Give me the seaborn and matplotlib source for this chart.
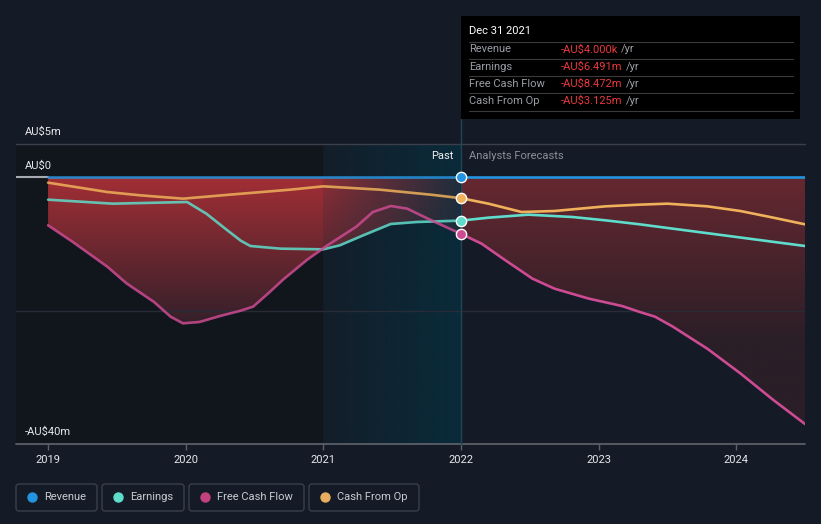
import numpy as np
import pandas as pd
import matplotlib
matplotlib.use("Agg")
import matplotlib.pyplot as plt
import seaborn as sns
from matplotlib.patches import FancyBboxPatch, PathPatch, Rectangle

# ---------------- data (AU$ millions) ----------------
rev_years = [2019.0, 2022.0, 2024.5]
revenue = [-0.004, -0.004, -0.004]

earn_years = [2019.0, 2019.47, 2020.01, 2020.15, 2020.30, 2020.40, 2020.47, 2020.69, 2021.0,
              2021.12, 2021.29, 2021.49, 2021.68, 2022.0, 2022.2, 2022.49, 2022.81, 2023.05,
              2023.30, 2023.41, 2023.91, 2024.5]
earnings = [-3.35, -3.95, -3.7, -5.45, -7.9, -9.5, -10.3, -10.7, -10.8,
            -10.2, -8.7, -7.0, -6.7, -6.491, -6.05, -5.6, -5.95, -6.45,
            -7.05, -7.35, -8.7, -10.3]

fcf_years = [2019.0, 2019.18, 2019.43, 2019.57, 2019.77, 2019.89, 2019.98, 2020.10, 2020.25,
             2020.40, 2020.49, 2020.6, 2020.71, 2020.88, 2021.03, 2021.24, 2021.36, 2021.49,
             2021.61, 2021.78, 2022.0, 2022.15, 2022.32, 2022.52, 2022.68, 2022.93, 2023.17,
             2023.30, 2023.41, 2023.54, 2023.79, 2024.03, 2024.27, 2024.5]
fcf = [-7.2, -9.7, -13.4, -15.9, -18.7, -20.9, -21.9, -21.7, -20.8,
       -20.0, -19.4, -17.4, -15.3, -12.4, -10.2, -7.4, -5.2, -4.3,
       -4.7, -6.4, -8.472, -9.95, -12.4, -15.2, -16.7, -18.2, -19.3,
       -20.2, -20.9, -22.4, -25.7, -29.4, -33.4, -37.0]

cfo_years = [2019.0, 2019.43, 2019.67, 2019.98, 2020.32, 2020.76, 2021.0, 2021.41, 2021.78,
             2022.0, 2022.2, 2022.44, 2022.68, 2023.05, 2023.3, 2023.5, 2023.79, 2024.03,
             2024.27, 2024.5]
cfo = [-0.8, -2.2, -2.7, -3.2, -2.6, -1.85, -1.35, -1.85, -2.6,
       -3.125, -3.95, -5.2, -5.05, -4.35, -4.1, -3.95, -4.35, -5.05,
       -6.05, -7.05]

year_ticks = [2019, 2020, 2021, 2022, 2023, 2024]
legend_labels = ["Revenue", "Earnings", "Free Cash Flow", "Cash From Op"]
tooltip_title = "Dec 31 2021"
tooltip_values = ["-AU$4.000k", "-AU$6.491m", "-AU$8.472m", "-AU$3.125m"]

C_REV = "#2394df"
C_EARN = "#5fdccb"
C_FCF = "#cc4b92"
C_CFO = "#efb15a"
BG = "#151b26"
FS = 8

sns.set_theme(style="dark")
plt.rcParams['font.family'] = ['Roboto', 'DejaVu Sans']

fig = plt.figure(figsize=(8.21, 5.24), dpi=100, facecolor=BG)
ax = fig.add_axes([16 / 821, 80 / 524, 789 / 821, 300 / 524])
ax.set_facecolor(BG)
X0, X1 = 2018.767, 2024.5
ax.set_xlim(X0, X1)
ax.set_ylim(-40, 5)
for s in ax.spines.values():
    s.set_visible(False)

# darker past band
ax.axvspan(X0, 2021.0, color="#11151c", zorder=0, lw=0)

# red gradient fill between 0 and the lowest series
grid = np.linspace(2019.0, 2024.5, 800)
low = np.minimum.reduce([np.interp(grid, earn_years, earnings),
                         np.interp(grid, fcf_years, fcf),
                         np.interp(grid, cfo_years, cfo),
                         np.zeros_like(grid)])

def grad_img(top, bottom, n=256, speed=1.9):
    t = np.linspace(0, 1, n)[:, None]
    top = np.array(matplotlib.colors.to_rgb(top))
    bottom = np.array(matplotlib.colors.to_rgb(bottom))
    k = np.clip(t * speed, 0, 1)
    return top[None, :] * (1 - k[..., None]) + bottom[None, :] * k[..., None]

for mask, top, bot, sp in [(grid <= 2022.0, "#a22e35", "#33202a", 1.8),
                           (grid >= 2022.0, "#662830", "#2a1e27", 1.6)]:
    gx = grid[mask]
    gl = low[mask]
    poly = ax.fill_between(gx, 0, gl, facecolor="none", edgecolor="none")
    path = poly.get_paths()[0]
    patch = PathPatch(path, transform=ax.transData, facecolor="none", edgecolor="none")
    ax.add_patch(patch)
    im = ax.imshow(grad_img(top, bot, speed=sp), extent=[gx[0], gx[-1], -40, 0],
                   aspect="auto", zorder=1, interpolation="bilinear")
    im.set_clip_path(patch)

# highlight band 2021-2022 (cyan gradient)
hx = np.linspace(0, 1, 200)
himg = np.zeros((2, 200, 4))
himg[..., 0] = 8 / 255
himg[..., 1] = 46 / 255
himg[..., 2] = 62 / 255
himg[..., 3] = 0.15 + 0.7 * hx[None, :]
ax.imshow(himg, extent=[2021.0, 2022.0, -40, 5], aspect="auto", zorder=2,
          interpolation="bilinear")
ax.set_xlim(X0, X1)
ax.set_ylim(-40, 5)

# grid lines
ax.axhline(5, color="#3b404b", lw=1, zorder=2, clip_on=False)
ax.axhline(-20, color="#272c36", lw=1, zorder=2)
ax.axhline(-40, color="#5a5f68", lw=1.3, zorder=2, clip_on=False)
ax.plot([X0, 2019.0], [0, 0], color="#a6aab0", lw=1.5, zorder=3)
ax.plot([2022.0, 2022.0], [-40, 5 + 25 / 6.667], color="#1f4656", lw=1, zorder=2,
        clip_on=False)

# lines
def draw(xs, ys, color, z):
    xs = np.array(xs); ys = np.array(ys)
    past = xs <= 2022.0
    fut = xs >= 2022.0
    sns.lineplot(x=xs[past], y=ys[past], ax=ax, color=color, lw=1.9, alpha=0.85,
                 estimator=None, sort=False, zorder=z)
    sns.lineplot(x=xs[fut], y=ys[fut], ax=ax, color=color, lw=1.9,
                 estimator=None, sort=False, zorder=z)

draw(cfo_years, cfo, C_CFO, 4)
draw(earn_years, earnings, C_EARN, 4)
draw(fcf_years, fcf, C_FCF, 4)
draw(rev_years, revenue, C_REV, 5)

for xs, ys, c in [(rev_years, revenue, C_REV), (earn_years, earnings, C_EARN),
                  (fcf_years, fcf, C_FCF), (cfo_years, cfo, C_CFO)]:
    v = ys[list(xs).index(2022.0)]
    ax.scatter([2022.0], [v], s=55, color=c, edgecolor="white", linewidth=1.0, zorder=7,
               clip_on=False)

ax.set_xticks(year_ticks)
ax.set_xticklabels([str(y) for y in year_ticks])
ax.set_yticks([])
ax.tick_params(axis="x", colors="#5a5f68", length=4, width=1, direction="out", pad=4,
               labelcolor="#e6e8eb", labelsize=FS, bottom=True)
ax.grid(False)
ax.set_xlabel("")
ax.set_ylabel("")

# overlay in pixel coordinates
ov = fig.add_axes([0, 0, 1, 1], zorder=10)
ov.set_xlim(0, 821)
ov.set_ylim(524, 0)
ov.axis("off")
ov.patch.set_alpha(0)

ov.text(25, 132, "AU$5m", color="#e6e8eb", fontsize=FS, va="center", ha="left")
ov.text(25, 166, "AU$0", color="#e6e8eb", fontsize=FS, va="center", ha="left")
ov.text(25, 432, "-AU$40m", color="#e6e8eb", fontsize=FS, va="center", ha="left")
ov.text(453, 156, "Past", color="#f0f0f0", fontsize=FS, va="center", ha="right")
ov.text(469, 156, "Analysts Forecasts", color="#8a8f98", fontsize=FS, va="center", ha="left")

# tooltip
ov.add_patch(Rectangle((461, 16), 339, 103, facecolor="#000000", edgecolor="none"))
ov.text(469, 31, tooltip_title, color="#ffffff", fontsize=FS, va="center", ha="left")
for yy in [41.5, 58.5, 76, 93, 110.5]:
    ov.plot([469, 793], [yy, yy], color="#3a3a3a", lw=0.8)
row_y = [49.5, 66.5, 84, 101]
fig.canvas.draw()
rend = fig.canvas.get_renderer()
for lab, val, yy in zip(legend_labels, tooltip_values, row_y):
    ov.text(469, yy, lab, color="#9a9ea5", fontsize=FS, va="center", ha="left")
    t = ov.text(561, yy, val, color="#e8393e", fontsize=FS, va="center", ha="left")
    bb = t.get_window_extent(renderer=rend)
    x_end = bb.x1 * 821 / fig.bbox.width
    ov.text(x_end + 3, yy, "/yr", color="#9a9ea5", fontsize=FS, va="center", ha="left")

# legend
boxes = [(16, 81), (102, 82), (189, 115), (309, 110)]
cols = [C_REV, C_EARN, "#c2417f", "#e8ae5f"]
for (bx, bw), lab, c in zip(boxes, legend_labels, cols):
    ov.add_patch(FancyBboxPatch((bx, 484), bw, 27,
                                boxstyle="round,pad=0,rounding_size=3",
                                facecolor="none", edgecolor="#3a3f4a", lw=1))
    ov.scatter([bx + 15.5], [497], s=42, color=c, zorder=11)
    ov.text(bx + 28, 497.5, lab, color="#c8ccd2", fontsize=FS, va="center", ha="left")

fig.savefig("out.png", dpi=100, facecolor=BG)
